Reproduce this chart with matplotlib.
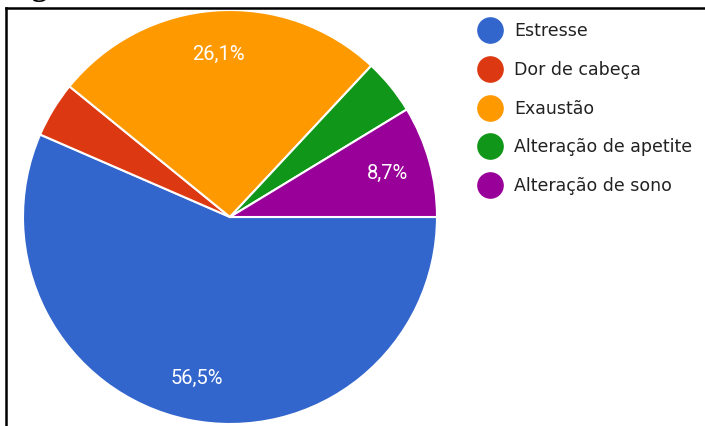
import matplotlib.pyplot as plt
from matplotlib.lines import Line2D

# Data
labels = ['Estresse', 'Dor de cabeça', 'Exaustão', 'Alteração de apetite', 'Alteração de sono']
values = [13, 1, 6, 1, 2]
colors = ['#3366cc', '#dc3912', '#ff9900', '#109618', '#990099']

W, H = 705, 427
fig = plt.figure(figsize=(W / 100, H / 100), dpi=100)
ax = fig.add_axes([0, 0, 1, 1])


def fmt(p):
    # only label the larger slices, comma as decimal separator
    return f'{p:.1f}%'.replace('.', ',') if p > 5 else ''


wedges, texts, autotexts = ax.pie(
    values, colors=colors, startangle=0, counterclock=False,
    center=(230, H - 218), radius=207, autopct=fmt, pctdistance=0.79,
    wedgeprops=dict(edgecolor='white', linewidth=1.5), frame=True)
ax.set_xlim(0, W)
ax.set_ylim(0, H)
ax.set_aspect('equal')
ax.axis('off')
for t in autotexts:
    t.set_color('white')
    t.set_fontsize(14.5)
    t.set_family(['Roboto', 'DejaVu Sans'])

# legend drawn by hand
for i, (lab, col) in enumerate(zip(labels, colors)):
    y = H - 31 - i * 38.8
    ax.scatter([490], [y], s=330, color=col, zorder=3)
    ax.text(514, y, lab, fontsize=12.5, va='center', ha='left', color='#222222')

# frame of the figure, right and bottom sides are cropped away
fig.add_artist(Line2D([6 / W, 6 / W], [0, 1 - 9 / H], color='black', lw=1.8,
                      transform=fig.transFigure))
fig.add_artist(Line2D([6 / W, 1], [1 - 9 / H, 1 - 9 / H], color='black', lw=1.8,
                      transform=fig.transFigure))

# caption above, mostly cut off
fig.text(3 / W, 1 + 5 / H, 'Figura 1 – Q', fontsize=23, fontweight='bold',
         family='Liberation Serif', va='baseline', ha='left')

fig.savefig('out.png', dpi=100)
